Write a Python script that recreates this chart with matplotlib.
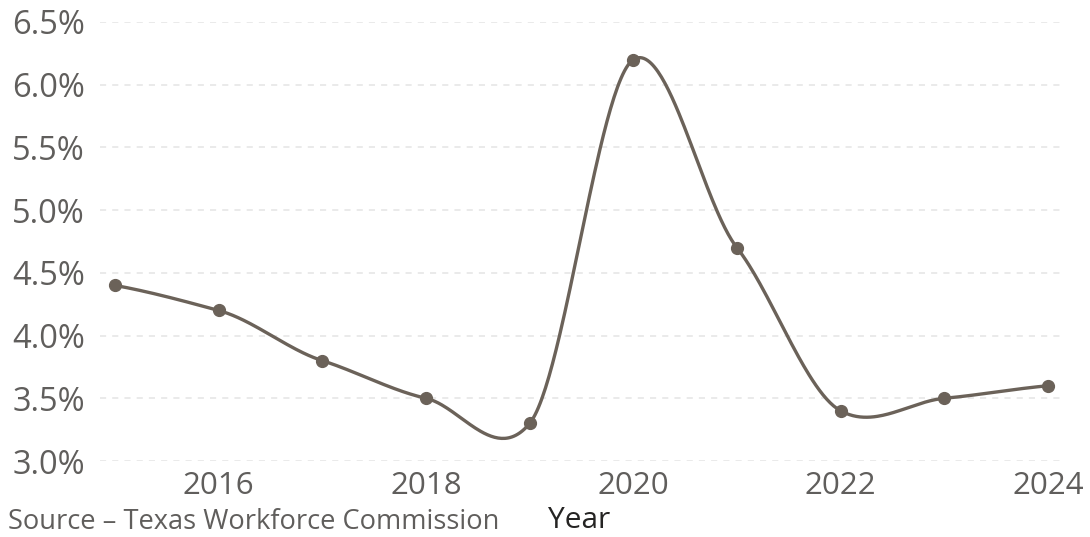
import numpy as np
from matplotlib import pyplot as plt

# %% data
years = [2015, 2016, 2017, 2018, 2019, 2020, 2021, 2022, 2023, 2024]
rate = [4.4, 4.2, 3.8, 3.5, 3.3, 6.2, 4.7, 3.4, 3.5, 3.6]
x_ticks = [2016, 2018, 2020, 2022, 2024]
y_ticks = [3.0, 3.5, 4.0, 4.5, 5.0, 5.5, 6.0, 6.5]


def smooth(x, y, k=0.75, n=60):
    # cardinal spline through the points (like the smoothed line in the original)
    x = np.asarray(x, float)
    y = np.asarray(y, float)
    m = np.zeros_like(y)
    m[1:-1] = (y[2:] - y[:-2]) / 2
    m[0] = y[1] - y[0]
    m[-1] = y[-1] - y[-2]
    m *= k
    xs, ys = [], []
    t = np.linspace(0, 1, n)
    for i in range(len(x) - 1):
        h00 = 2 * t**3 - 3 * t**2 + 1
        h10 = t**3 - 2 * t**2 + t
        h01 = -2 * t**3 + 3 * t**2
        h11 = t**3 - t**2
        xs.append(x[i] + t * (x[i + 1] - x[i]))
        ys.append(h00 * y[i] + h10 * m[i] + h01 * y[i + 1] + h11 * m[i + 1])
    return np.concatenate(xs), np.concatenate(ys)


# %% plot
plt.rcParams['font.family'] = ['Open Sans', 'DejaVu Sans']
line_color = '#6b6259'
text_color = '#605e5c'

fig = plt.figure(figsize=(10.9, 5.37), dpi=100)
ax = fig.add_axes([100 / 1090, 1 - 461 / 537, 963 / 1090, 439 / 537])

sx, sy = smooth(years, rate)
ax.plot(sx, sy, color=line_color, linewidth=2.4, solid_capstyle='round')
ax.plot(years, rate, 'o', color=line_color, markersize=8.5)

ax.set_xlim(2014.855, 2024.145)
ax.set_ylim(3.0, 6.5)
ax.set_xticks(x_ticks)
ax.set_xticklabels([str(v) for v in x_ticks])
ax.set_yticks(y_ticks)
ax.set_yticklabels([f'{v:.1f}%' for v in y_ticks])
ax.tick_params(axis='both', length=0, colors=text_color)
ax.tick_params(axis='y', labelsize=23.5, pad=11)
ax.tick_params(axis='x', labelsize=22.5, pad=7)
ax.grid(axis='y', color='#e4e4e4', linestyle=(0, (4, 4)), linewidth=1.1)
ax.set_axisbelow(True)
for s in ax.spines.values():
    s.set_visible(False)

fig.text(8 / 1090, 1 - 522 / 537, 'Source \u2013 Texas Workforce Commission',
         fontsize=19.6, color=text_color, va='center', ha='left')
fig.text(548 / 1090, 1 - 520 / 537, 'Year', fontsize=21.5, color='#252423',
         va='center', ha='left')

plt.savefig('out.png', dpi=100)
